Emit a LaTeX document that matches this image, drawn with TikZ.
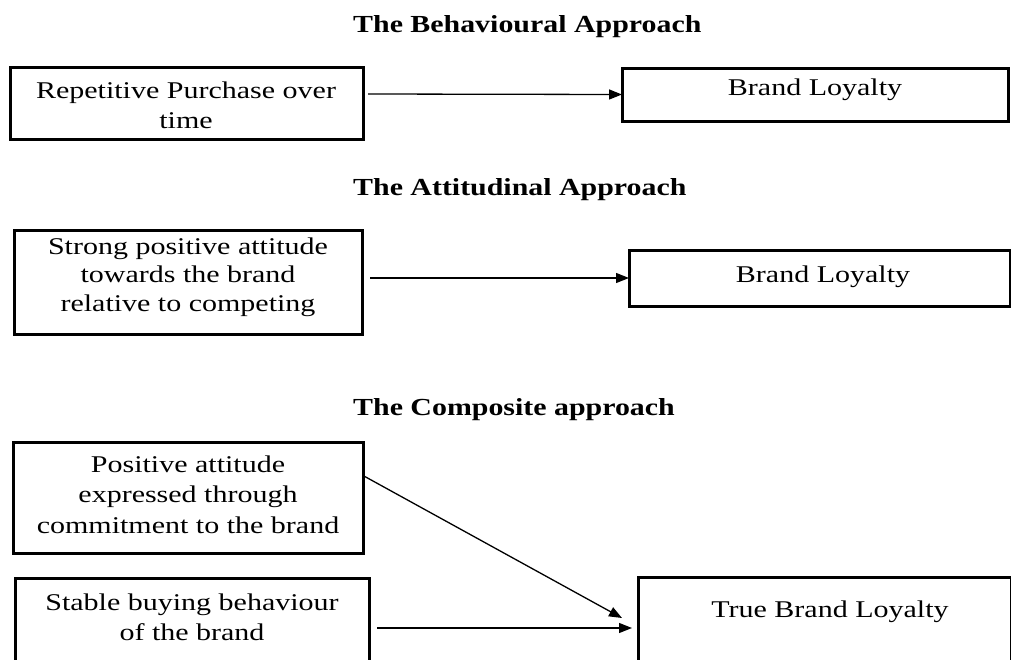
\documentclass[tikz,border=0pt]{standalone}
\usepackage{fontspec}
\usetikzlibrary{arrows.meta}
\newfontfamily\bodyfont[FakeStretch=1.25]{Liberation Serif}
\newfontfamily\headfont[FakeStretch=1.22]{Liberation Serif}
\begin{document}
\begin{tikzpicture}[x=1pt,y=-1pt,
  boxnode/.style={draw,line width=3pt,inner sep=0pt,outer sep=0pt,anchor=north west},
  headnode/.style={anchor=base west,inner sep=0pt,font=\headfont\fontsize{24.5}{28}\selectfont\bfseries},
  txt/.style={anchor=base,inner sep=0pt,align=center,font=\bodyfont\fontsize{24}{#1}\selectfont},
  txt/.default=30,
  arr/.style={line width=1.3pt,-{Triangle[length=13pt,width=10pt]}}]
\useasboundingbox (0,0) rectangle (1011,659);

% section headings
\node[headnode] (h1) at (353,32) {The Behavioural Approach};
\node[headnode] (h2) at (353,195) {The Attitudinal Approach};
\node[headnode] (h3) at (353,415) {The Composite approach};

% behavioural approach (multi-line nodes sit on the baseline of their last line)
\node[boxnode,minimum width=353,minimum height=72] (b1) at (10,67) {};
\node[txt] (t1) at (186,128) {Repetitive Purchase over\\time};
\node[boxnode,minimum width=386,minimum height=53] (b2) at (622,68) {};
\node[txt] (t2) at (815,95) {Brand Loyalty};

% attitudinal approach
\node[boxnode,minimum width=348,minimum height=104] (b3) at (14,230) {};
\node[txt=28.5] (t3) at (188,311) {Strong positive attitude\\towards the brand\\relative to competing};
\node[boxnode,minimum width=381,minimum height=56] (b4) at (629,250) {};
\node[txt] (t4) at (823,282) {Brand Loyalty};

% composite approach
\node[boxnode,minimum width=350,minimum height=111] (b5) at (13,442) {};
\node[txt=30.5] (t5) at (188,533) {Positive attitude\\expressed through\\commitment to the brand};
\node[boxnode,minimum width=354,minimum height=124] (b6) at (15,578) {};
\node[txt] (t6) at (192,640) {Stable buying behaviour\\of the brand};
\node[boxnode,minimum width=373,minimum height=124] (tb) at (638,577) {};
\node[txt] (t7) at (830,617) {True Brand Loyalty};

% connectors
\draw[arr] ([xshift=5pt,yshift=9pt]b1.east) -- (b2.west);
\draw[arr] ([xshift=8pt,yshift=4pt]b3.east) -- (b4.west);
\draw[arr] ([yshift=22pt]b5.east) -- ([xshift=-16pt,yshift=-41pt]tb.north west);
\draw[arr] ([xshift=8pt,yshift=-50pt]b6.north east) -- ([xshift=-6pt,yshift=-51pt]tb.north west);
\end{tikzpicture}
\end{document}
